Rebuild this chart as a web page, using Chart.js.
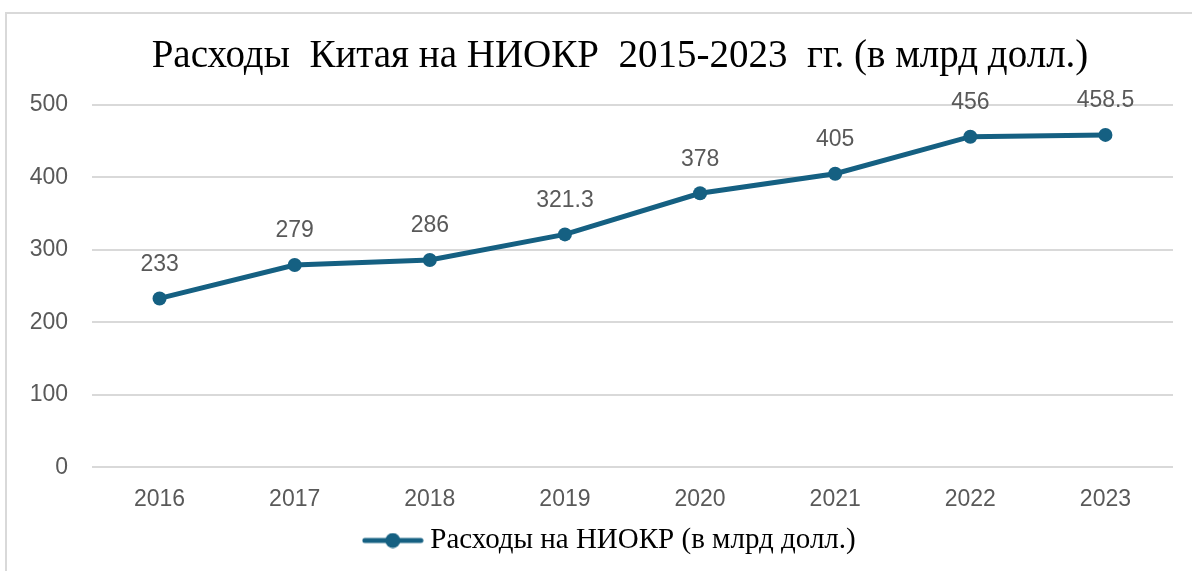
<!DOCTYPE html>
<html>
<head>
<meta charset="utf-8">
<script src="https://cdn.jsdelivr.net/npm/chart.js@4/dist/chart.umd.min.js"></script>
<style>
  html, body { margin: 0; padding: 0; background: #fff; overflow: hidden; }
  #frame {
    position: absolute; left: 5px; top: 12px;
    width: 1300px; height: 600px;
    border-left: 2px solid #d9d9d9; border-top: 2px solid #d9d9d9;
  }
  #chart { position: absolute; left: 1px; top: 1px; }
</style>
</head>
<body>
<div id="frame"><canvas id="chart" width="1224" height="556"></canvas></div>
<script>
const years = ["2016", "2017", "2018", "2019", "2020", "2021", "2022", "2023"];
const spending = [233, 279, 286, 321.3, 378, 405, 456, 458.5];
const yTicks = [0, 100, 200, 300, 400, 500];
const titleText = "Расходы  Китая на НИОКР  2015-2023  гг. (в млрд долл.)";
const seriesName = "Расходы на НИОКР (в млрд долл.)";

const lineColor = "#156082";
const textGray = "#595959";

// значок легенды: линия с точкой посередине
const legendIcon = document.createElement("canvas");
legendIcon.width = 62;
legendIcon.height = 16;
const ic = legendIcon.getContext("2d");
ic.strokeStyle = lineColor;
ic.lineWidth = 5;
ic.lineCap = "round";
ic.beginPath();
ic.moveTo(3, 8);
ic.lineTo(59, 8);
ic.stroke();
ic.fillStyle = lineColor;
ic.beginPath();
ic.arc(31, 8, 7.5, 0, Math.PI * 2);
ic.fill();

// подписи значений над точками
const valueLabels = {
  id: "valueLabels",
  afterDatasetsDraw(chart) {
    const ctx = chart.ctx;
    const meta = chart.getDatasetMeta(0);
    ctx.save();
    ctx.font = "23px 'Liberation Sans', Arial, sans-serif";
    ctx.fillStyle = textGray;
    ctx.textAlign = "center";
    ctx.textBaseline = "middle";
    meta.data.forEach((pt, i) => {
      ctx.fillText(String(spending[i]), pt.x, pt.y - 34);
    });
    ctx.restore();
  },
};

// ось Y узкая (чтобы заголовок был смещён как в оригинале), но подписи не обрезаем
const yLabelRoom = {
  id: "yLabelRoom",
  afterLayout(chart) {
    const y = chart.scales.y;
    y.left = 0;
    y.width = y.right;
  },
};

new Chart(document.getElementById("chart"), {
  type: "line",
  data: {
    labels: years,
    datasets: [
      {
        label: seriesName,
        data: spending,
        borderColor: lineColor,
        backgroundColor: lineColor,
        borderWidth: 5,
        pointRadius: 7,
        pointHoverRadius: 7,
        pointBackgroundColor: lineColor,
        pointBorderWidth: 0,
        pointStyle: "circle",
        tension: 0,
      },
    ],
  },
  options: {
    responsive: false,
    animation: false,
    devicePixelRatio: 1,
    layout: {
      padding: { left: 59, right: 59, top: 0, bottom: 6 },
    },
    plugins: {
      title: {
        display: true,
        text: titleText,
        color: "#000",
        font: { family: "'Liberation Serif', 'Times New Roman', serif", size: 39, weight: "normal" },
        padding: { top: 18, bottom: 25 },
      },
      legend: {
        position: "bottom",
        labels: {
          usePointStyle: true,
          pointStyleWidth: 46,
          color: "#000",
          font: { family: "'Liberation Serif', 'Times New Roman', serif", size: 29 },
          generateLabels: () => [
            {
              text: seriesName + "  ",
              pointStyle: legendIcon,
              fillStyle: lineColor,
              strokeStyle: lineColor,
              lineWidth: 0,
              datasetIndex: 0,
            },
          ],
        },
      },
      tooltip: { enabled: false },
    },
    scales: {
      x: {
        offset: true,
        grid: { display: false },
        border: { display: false },
        afterFit: (axis) => {
          axis.height = axis.height - 7;
        },
        ticks: {
          color: textGray,
          padding: 10,
          font: { family: "'Liberation Sans', Arial, sans-serif", size: 23 },
        },
      },
      y: {
        min: yTicks[0],
        max: yTicks[yTicks.length - 1],
        afterBuildTicks: (axis) => {
          axis.ticks = yTicks.map((v) => ({ value: v }));
        },
        afterFit: (axis) => {
          axis.width = 25;
        },
        grid: { color: "#d9d9d9", lineWidth: 2, drawTicks: false },
        border: { display: false },
        ticks: {
          color: textGray,
          padding: 24,
          font: { family: "'Liberation Sans', Arial, sans-serif", size: 23 },
        },
      },
    },
  },
  plugins: [valueLabels, yLabelRoom],
});
</script>
</body>
</html>
